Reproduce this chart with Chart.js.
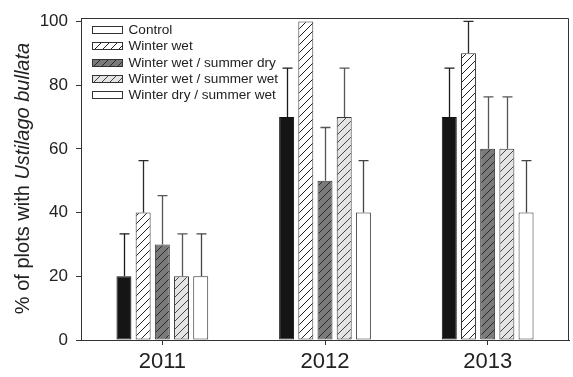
<!DOCTYPE html>
<html>
<head>
<meta charset="utf-8">
<script src="https://cdn.jsdelivr.net/npm/chart.js@4/dist/chart.umd.min.js"></script>
<style>
  html, body { margin: 0; padding: 0; background: #fff; }
  canvas { display: block; }
</style>
</head>
<body>
<canvas id="chart" width="573" height="377"></canvas>
<script>
// Years on the x axis
const years = ['2011', '2012', '2013'];

// Treatment names
const seriesNames = [
  'Control',
  'Winter wet',
  'Winter wet / summer dry',
  'Winter wet / summer wet',
  'Winter dry / summer wet'
];

// % of plots infected, per treatment and year
const controlValues = [20, 70, 70];
const winterWetValues = [40, 100, 90];
const wetDryValues = [30, 50, 60];
const wetWetValues = [20, 70, 60];
const dryWetValues = [20, 40, 40];

// Standard errors (upper whisker length)
const controlErr = [13.3, 15.3, 15.3];
const winterWetErr = [16.3, 0, 10];
const wetDryErr = [15.3, 16.7, 16.3];
const wetWetErr = [13.3, 15.3, 16.3];
const dryWetErr = [13.3, 16.3, 16.3];

// Y axis tick labels
const yTicks = [0, 20, 40, 60, 80, 100];

const FONT = '"Liberation Sans", Arial, Helvetica, sans-serif';
const INK = '#222';

function hatch(bg, lineColor) {
  const s = 8;
  const c = document.createElement('canvas');
  c.width = s; c.height = s;
  const g = c.getContext('2d');
  g.fillStyle = bg;
  g.fillRect(0, 0, s, s);
  g.strokeStyle = lineColor;
  g.lineWidth = 1;
  g.beginPath();
  g.moveTo(0, s); g.lineTo(s, 0);
  g.moveTo(-s / 2, s / 2); g.lineTo(s / 2, -s / 2);
  g.moveTo(s / 2, s * 1.5); g.lineTo(s * 1.5, s / 2);
  g.stroke();
  return g.createPattern(c, 'repeat');
}

const fills = [
  '#151515',
  hatch('#ffffff', '#222'),
  hatch('#7a7a7a', '#2a2a2a'),
  hatch('#e4e4e4', '#444'),
  '#ffffff'
];
// The legend shows the Control entry as an open box
const legendFills = ['#ffffff', fills[1], fills[2], fills[3], fills[4]];
const errColors = ['#1a1a1a', '#2a2a2a', '#555', '#555', '#444'];

const valueSets = [controlValues, winterWetValues, wetDryValues, wetWetValues, dryWetValues];
const errSets = [controlErr, winterWetErr, wetDryErr, wetWetErr, dryWetErr];

const datasets = seriesNames.map((name, i) => ({
  label: name,
  data: valueSets[i],
  errors: errSets[i],
  backgroundColor: fills[i],
  borderColor: i === 0 ? '#111' : '#333',
  borderWidth: 1,
  borderSkipped: false,
  categoryPercentage: 0.59,
  barPercentage: 0.78
}));

// Upper error whiskers with caps
const errorBars = {
  id: 'errorBars',
  afterDatasetsDraw(chart) {
    const ctx = chart.ctx;
    const y = chart.scales.y;
    chart.data.datasets.forEach((ds, di) => {
      const meta = chart.getDatasetMeta(di);
      meta.data.forEach((bar, k) => {
        const e = ds.errors[k];
        if (!e) return;
        const top = y.getPixelForValue(ds.data[k] + e);
        const x = Math.round(bar.x) + 0.5;
        ctx.save();
        ctx.strokeStyle = errColors[di];
        ctx.lineWidth = 1.3;
        ctx.beginPath();
        ctx.moveTo(x, bar.y);
        ctx.lineTo(x, top);
        ctx.moveTo(x - 5, top);
        ctx.lineTo(x + 5, top);
        ctx.stroke();
        ctx.restore();
      });
    });
  }
};

// Frame around the plotting area
const frame = {
  id: 'frame',
  afterDraw(chart) {
    const a = chart.chartArea;
    const ctx = chart.ctx;
    ctx.save();
    ctx.strokeStyle = '#333';
    ctx.lineWidth = 1;
    ctx.beginPath();
    ctx.moveTo(Math.round(a.left) + 0.5, Math.round(a.top) + 0.5);
    ctx.lineTo(Math.round(a.right) - 0.5, Math.round(a.top) + 0.5);
    ctx.lineTo(Math.round(a.right) - 0.5, Math.round(a.bottom) + 0.5);
    ctx.stroke();
    ctx.restore();
  }
};

// Legend inside the plot, top left
const insetLegend = {
  id: 'insetLegend',
  afterDraw(chart) {
    const ctx = chart.ctx;
    const x0 = chart.chartArea.left + 11.5;
    const y0 = 30;
    const step = 16.3;
    ctx.save();
    ctx.font = '13.6px ' + FONT;
    ctx.textBaseline = 'middle';
    ctx.textAlign = 'left';
    chart.data.datasets.forEach((ds, i) => {
      const cy = Math.round(y0 + i * step);
      ctx.fillStyle = legendFills[i];
      ctx.fillRect(x0, cy - 3.5, 30, 7);
      ctx.strokeStyle = '#333';
      ctx.lineWidth = 1;
      ctx.strokeRect(x0, cy - 3.5, 30, 7);
      ctx.fillStyle = INK;
      ctx.fillText(ds.label, x0 + 36, cy + 0.5);
    });
    ctx.restore();
  }
};

// Y axis title with the species name in italics
const yTitle = {
  id: 'yTitle',
  afterDraw(chart) {
    const ctx = chart.ctx;
    const plain = '% of plots with ';
    const ital = 'Ustilago bullata';
    ctx.save();
    ctx.fillStyle = INK;
    ctx.textBaseline = 'alphabetic';
    ctx.font = '20px ' + FONT;
    const w1 = ctx.measureText(plain).width;
    ctx.font = 'italic 20px ' + FONT;
    const w2 = ctx.measureText(ital).width;
    const total = w1 + w2;
    const cy = 178.5;
    ctx.translate(28.5, cy);
    ctx.rotate(-Math.PI / 2);
    ctx.textAlign = 'left';
    ctx.font = '20px ' + FONT;
    ctx.fillText(plain, -total / 2, 0);
    ctx.font = 'italic 20px ' + FONT;
    ctx.fillText(ital, -total / 2 + w1, 0);
    ctx.restore();
  }
};

new Chart(document.getElementById('chart'), {
  type: 'bar',
  data: { labels: years, datasets },
  options: {
    responsive: false,
    animation: false,
    layout: { padding: { top: 12, right: 4, left: 0, bottom: 0 } },
    plugins: {
      legend: { display: false },
      tooltip: { enabled: false },
      title: { display: false }
    },
    scales: {
      x: {
        grid: { display: true, drawOnChartArea: false, offset: false, tickLength: 5, color: '#333' },
        border: { color: '#333', width: 1 },
        ticks: { color: INK, font: { family: FONT, size: 22 }, padding: 4, maxRotation: 0 },
        afterFit(scale) { scale.height = 37; }
      },
      y: {
        min: 0,
        max: 101,
        grid: { display: true, drawOnChartArea: false, tickLength: 5, color: '#333' },
        border: { color: '#333', width: 1 },
        ticks: { color: INK, font: { family: FONT, size: 17 }, padding: 8 },
        afterBuildTicks(scale) { scale.ticks = yTicks.map(v => ({ value: v })); },
        afterFit(scale) { scale.width = 81; }
      }
    }
  },
  plugins: [errorBars, frame, insetLegend, yTitle]
});
</script>
</body>
</html>
